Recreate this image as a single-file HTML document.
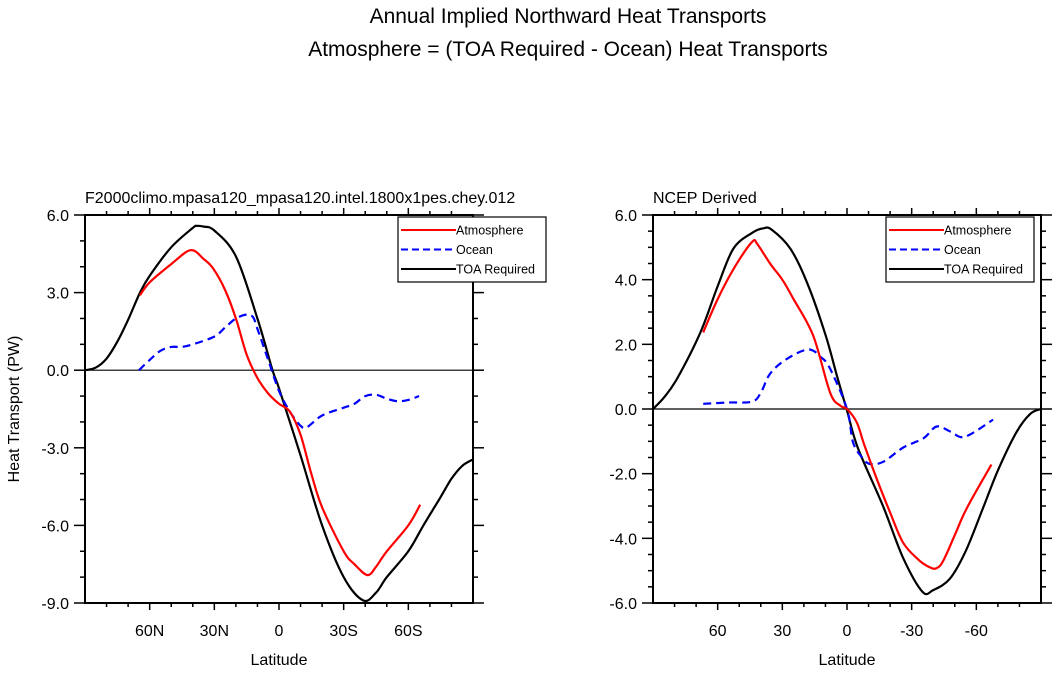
<!DOCTYPE html>
<html><head><meta charset="utf-8"><style>
body{margin:0;background:#fff;}
svg text{font-family:"Liberation Sans",sans-serif;fill:#000;}
</style></head><body>
<svg id="chart" width="1057" height="671" viewBox="0 0 1057 671" xmlns="http://www.w3.org/2000/svg">
<text x="568" y="23" font-size="21" text-anchor="middle">Annual Implied Northward Heat Transports</text>
<text x="568" y="56" font-size="21" text-anchor="middle">Atmosphere = (TOA Required - Ocean) Heat Transports</text>
<g id="p1"></g>
<g id="p2"></g>
</svg>
<script>
// Left panel data (latitude in degrees, + = north)
const leftToaLat = [90,85,80,75,70,64.5,60,50,40,38,35,30,20,10,3,0,-10,-20,-30,-39,-45,-50,-60,-67,-75,-80,-85,-90];
const leftToaVal = [0,0.1,0.45,1.1,1.95,3.0,3.65,4.75,5.5,5.58,5.55,5.4,4.4,2.0,0,-0.7,-3.3,-6.0,-8.0,-8.9,-8.6,-8.0,-7.0,-6.0,-4.9,-4.2,-3.7,-3.45];
const leftAtmLat = [64.5,60,50,41,35,30.6,25,20,15,10,5,0,-5,-10,-15,-20,-30,-35,-41,-45,-50,-60,-65.5];
const leftAtmVal = [2.9,3.4,4.1,4.64,4.3,3.94,3.1,2.0,0.6,-0.3,-0.9,-1.3,-1.6,-2.5,-4.0,-5.3,-7.0,-7.5,-7.92,-7.6,-7.0,-6.0,-5.2];
const leftOcnLat = [65,60,55,50,45,40,30,25,20,15,12,10,5,0,-5,-10,-13,-20,-30,-35,-40,-45,-50,-55,-60,-65];
const leftOcnVal = [0,0.4,0.75,0.9,0.9,1.0,1.3,1.65,2.0,2.15,2.05,1.6,0.4,-0.8,-1.6,-2.15,-2.2,-1.75,-1.45,-1.3,-1.0,-0.95,-1.1,-1.2,-1.15,-1.0];
// Right panel data
const rightToaLat = [90,85,78.8,68,60,52.7,44,38.7,35,26.3,18.6,10,4.7,0,-5,-16.7,-26,-35,-40,-47.7,-55,-63,-70,-78.6,-85,-90];
const rightToaVal = [0,0.35,0.94,2.37,3.8,4.96,5.45,5.59,5.55,4.96,3.92,2.3,1.03,-0.05,-1.2,-3.0,-4.6,-5.65,-5.6,-5.25,-4.4,-3.08,-1.9,-0.72,-0.15,0];
const rightAtmLat = [66.7,60,52,44,41.6,35.6,30,24.9,15.7,7.8,3,0,-4.5,-8,-13.8,-20,-26,-33,-38.5,-41.6,-44.6,-50,-55.5,-67];
const rightAtmVal = [2.37,3.4,4.4,5.17,5.1,4.49,4.0,3.41,2.27,0.5,0.1,0,-0.41,-1.1,-2.16,-3.2,-4.13,-4.65,-4.9,-4.92,-4.7,-3.9,-3.08,-1.72];
const rightOcnLat = [66.7,55,44,40,35.6,27.9,18,12,7.8,0,-2.8,-7,-10.7,-16.9,-26.1,-35.4,-41.6,-48,-54.7,-67.8];
const rightOcnVal = [0.16,0.2,0.23,0.5,1.1,1.55,1.84,1.6,1.24,0,-1.03,-1.5,-1.7,-1.63,-1.19,-0.91,-0.54,-0.7,-0.86,-0.33];
// Axis ticks
const leftXTicks = [60,30,0,-30,-60];
const leftXLabels = ["60N","30N","0","30S","60S"];
const leftYTicks = [6,3,0,-3,-6,-9];
const leftYLabels = ["6.0","3.0","0.0","-3.0","-6.0","-9.0"];
const rightXTicks = [60,30,0,-30,-60];
const rightXLabels = ["60","30","0","-30","-60"];
const rightYTicks = [6,4,2,0,-2,-4,-6];
const rightYLabels = ["6.0","4.0","2.0","0.0","-2.0","-4.0","-6.0"];
const legendLabels = ["Atmosphere","Ocean","TOA Required"];

const NS="http://www.w3.org/2000/svg";
function mk(parent,tag,attrs){const e=document.createElementNS(NS,tag);for(const k in attrs)e.setAttribute(k,attrs[k]);parent.appendChild(e);return e;}
function smooth(P){
  let d='M'+P[0][0].toFixed(1)+','+P[0][1].toFixed(1);
  for(let i=0;i<P.length-1;i++){
    const p0=P[i-1]||P[i],p1=P[i],p2=P[i+1],p3=P[i+2]||P[i+1];
    const c1=[p1[0]+(p2[0]-p0[0])/6,p1[1]+(p2[1]-p0[1])/6];
    const c2=[p2[0]-(p3[0]-p1[0])/6,p2[1]-(p3[1]-p1[1])/6];
    d+=' C'+c1.map(v=>v.toFixed(1)).join(',')+' '+c2.map(v=>v.toFixed(1)).join(',')+' '+p2[0].toFixed(1)+','+p2[1].toFixed(1);
  }
  return d;
}

function panel(g,o){
  const L=o.x0,R=o.x1,T=215,B=603;
  const sx=lat=>L+(90-lat)/180*(R-L);
  const sy=v=>T+(o.ymax-v)/(o.ymax-o.ymin)*(B-T);
  for(let lat=80;lat>=-80;lat-=10){
    const major=lat%30===0;const len=major?7:4;const x=sx(lat);
    const t1=mk(g,'line',{x1:x,x2:x,y1:B,y2:B+len,stroke:'#000','stroke-width':1.5});
    
    
    const t2=mk(g,'line',{x1:x,x2:x,y1:T,y2:T-len,stroke:'#000','stroke-width':1.5});
    
    
  }
  for(let v=o.ymin;v<=o.ymax+1e-9;v+=o.minor){
    const major=Math.abs(Math.round(v/o.major)*o.major-v)<1e-6;const len=major?11:5;const y=sy(v);
    const t1=mk(g,'line',{x1:L,x2:L-len,y1:y,y2:y,stroke:'#000','stroke-width':1.5});
    
    
    const t2=mk(g,'line',{x1:R,x2:R+len,y1:y,y2:y,stroke:'#000','stroke-width':1.5});
    
    
  }
  o.xt.forEach((lat,i)=>{
    const t=mk(g,'text',{x:sx(lat),y:B+33,'font-size':16,'text-anchor':'middle'});t.textContent=o.xl[i];
    
    
  });
  o.yt.forEach((v,i)=>{
    const t=mk(g,'text',{x:L-16,y:sy(v)+6,'font-size':16,'text-anchor':'end'});t.textContent=o.yl[i];
    
    
  });
  const xl=mk(g,'text',{x:(L+R)/2,y:665,'font-size':16,'text-anchor':'middle'});xl.textContent='Latitude';
  
  
  const st=mk(g,'text',{x:L,y:203,'font-size':16});st.textContent=o.sub;
  
  
  const z=mk(g,'line',{x1:L,x2:R,y1:sy(0),y2:sy(0),stroke:'#000','stroke-width':1.2});
  
  
  const series=[[o.toa[0],o.toa[1],'#000','',2.2,'toa-required-line'],[o.ocn[0],o.ocn[1],'#0000ff','8,5',2.2,'ocean-line'],[o.atm[0],o.atm[1],'#ff0000','',2.2,'atmosphere-line']];
  series.forEach(s=>{
    const P=s[0].map((lat,i)=>[sx(lat),sy(s[1][i])]);
    const p=mk(g,'path',{d:smooth(P),fill:'none',stroke:s[2],'stroke-width':s[4],'stroke-dasharray':s[3],'stroke-linejoin':'round'});
    
    
  });
  const f=mk(g,'rect',{x:L,y:T,width:R-L,height:B-T,fill:'none',stroke:'#000','stroke-width':2});
  
  
  const lx=o.lx,ly=217;
  const lg=mk(g,'g',{});
  
  
  mk(lg,'rect',{x:lx,y:ly,width:148,height:65,fill:'#fff',stroke:'#000','stroke-width':1.2});
  const cols=['#ff0000','#0000ff','#000'];
  legendLabels.forEach((lab,i)=>{
    const y=ly+13+i*19.5;
    const e=mk(lg,'g',{});
    
    
    mk(e,'line',{x1:lx+3,x2:lx+58,y1:y,y2:y,stroke:cols[i],'stroke-width':2,'stroke-dasharray':i===1?'7,4':''});
    const t=mk(e,'text',{x:lx+58,y:y+4.5,'font-size':12.5});t.textContent=lab;
  });
}
panel(document.getElementById('p1'),{x0:85,x1:473,ymin:-9,ymax:6,minor:1,major:3,xt:leftXTicks,xl:leftXLabels,yt:leftYTicks,yl:leftYLabels,
  sub:'F2000climo.mpasa120_mpasa120.intel.1800x1pes.chey.012',toa:[leftToaLat,leftToaVal],atm:[leftAtmLat,leftAtmVal],ocn:[leftOcnLat,leftOcnVal],lx:398});
panel(document.getElementById('p2'),{x0:653,x1:1041,ymin:-6,ymax:6,minor:0.5,major:2,xt:rightXTicks,xl:rightXLabels,yt:rightYTicks,yl:rightYLabels,
  sub:'NCEP Derived',toa:[rightToaLat,rightToaVal],atm:[rightAtmLat,rightAtmVal],ocn:[rightOcnLat,rightOcnVal],lx:886});
const yt=document.createElementNS(NS,'text');
yt.setAttribute('x',19);yt.setAttribute('y',409);yt.setAttribute('font-size',16);yt.setAttribute('text-anchor','middle');
yt.setAttribute('transform','rotate(-90 19 409)');
yt.textContent='Heat Transport (PW)';


document.getElementById('chart').appendChild(yt);
</script>
</body></html>
